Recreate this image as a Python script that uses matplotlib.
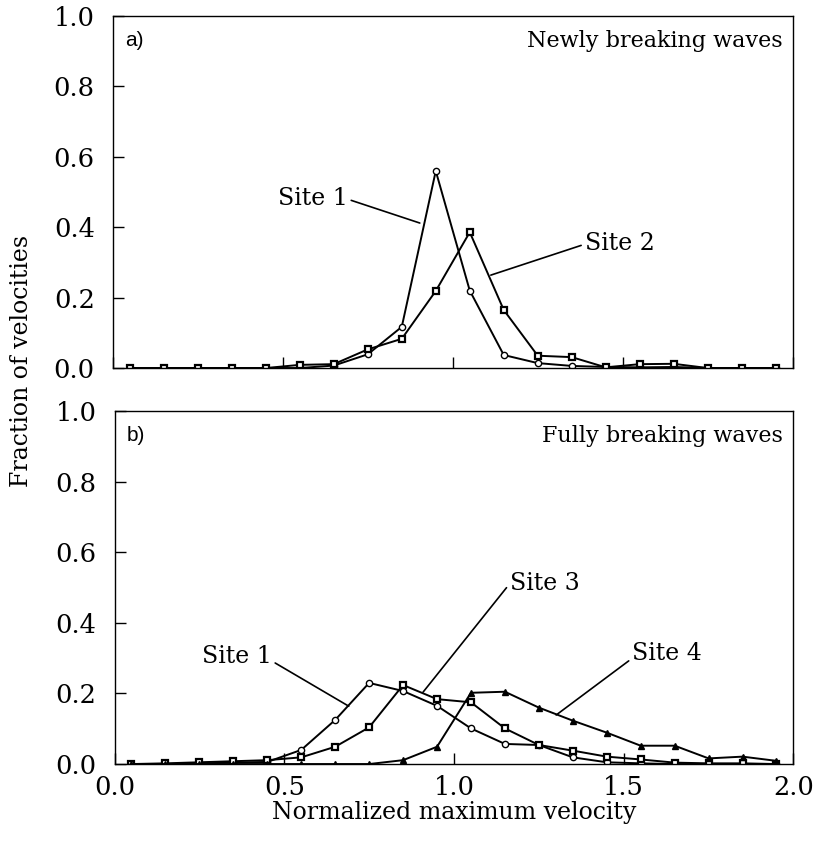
import matplotlib
matplotlib.use("Agg")
import matplotlib.pyplot as plt

plt.rcParams["font.family"] = ["DejaVu Serif"]

# bin centres of normalized maximum velocity
velocity = [0.05, 0.15, 0.25, 0.35, 0.45, 0.55, 0.65, 0.75, 0.85, 0.95,
            1.05, 1.15, 1.25, 1.35, 1.45, 1.55, 1.65, 1.75, 1.85, 1.95]

# a) newly breaking waves
newly_site1 = [0.0, 0.0, 0.0, 0.0, 0.0, 0.0, 0.007, 0.039, 0.117, 0.56,
               0.22, 0.037, 0.014, 0.006, 0.003, 0.002, 0.003, 0.0, 0.0, 0.0]
newly_site2 = [0.0, 0.0, 0.0, 0.0, 0.0, 0.009, 0.011, 0.053, 0.083, 0.219,
               0.386, 0.165, 0.035, 0.031, 0.002, 0.011, 0.012, 0.0, 0.0, 0.0]

# b) fully breaking waves
fully_site1 = [0.0, 0.0, 0.002, 0.004, 0.006, 0.04, 0.125, 0.23, 0.207, 0.165,
               0.101, 0.057, 0.054, 0.019, 0.005, 0.002, 0.0, 0.0, 0.0, 0.0]
fully_site3 = [0.0, 0.002, 0.005, 0.008, 0.011, 0.019, 0.049, 0.104, 0.224, 0.184,
               0.175, 0.101, 0.054, 0.038, 0.021, 0.013, 0.004, 0.002, 0.002, 0.0]
fully_site4 = [0.0, 0.0, 0.0, 0.0, 0.0, 0.0, 0.0, 0.0, 0.011, 0.049,
               0.202, 0.205, 0.16, 0.123, 0.089, 0.052, 0.052, 0.016, 0.021, 0.009]

x_ticks = [0.0, 0.5, 1.0, 1.5, 2.0]
y_ticks = [0.0, 0.2, 0.4, 0.6, 0.8, 1.0]

fig = plt.figure(figsize=(8.18, 8.48), dpi=100)
ax_a = fig.add_axes([0.138, 0.566, 0.831, 0.415])
ax_b = fig.add_axes([0.140, 0.099, 0.830, 0.416])

line_kw = dict(color="black", lw=1.4)
circle_kw = dict(marker="o", ms=4.5, mfc="white", mec="black", mew=1.0)
square_kw = dict(marker="s", ms=5, mfc="white", mec="black", mew=1.6)
tri_kw = dict(marker="^", ms=5, mfc="black", mec="black")

ax_a.plot(velocity, newly_site1, **line_kw, **circle_kw)
ax_a.plot(velocity, newly_site2, **line_kw, **square_kw)

ax_b.plot(velocity, fully_site1, **line_kw, **circle_kw)
ax_b.plot(velocity, fully_site3, **line_kw, **square_kw)
ax_b.plot(velocity, fully_site4, **line_kw, **tri_kw)

for ax in (ax_a, ax_b):
    ax.set_xlim(0, 2)
    ax.set_ylim(0, 1)
    ax.set_yticks(y_ticks)
    ax.set_yticklabels([f"{t:.1f}" for t in y_ticks], fontsize=18.5)
    ax.set_xticks(x_ticks)
    ax.tick_params(direction="in", length=8, width=1.0, top=False, right=False)
    ax.tick_params(axis="y", pad=13)
    for s in ax.spines.values():
        s.set_linewidth(1.0)

ax_a.set_xticklabels([])
ax_b.set_xticklabels([f"{t:.1f}" for t in x_ticks], fontsize=18.5)
ax_b.tick_params(axis="x", pad=8)

panel_font = ["Liberation Sans", "DejaVu Sans"]
ax_a.text(0.018, 0.93, "a)", transform=ax_a.transAxes, fontsize=15,
          family=panel_font, va="center", ha="left")
ax_a.text(0.985, 0.93, "Newly breaking waves", transform=ax_a.transAxes,
          fontsize=16, va="center", ha="right")
ax_b.text(0.018, 0.93, "b)", transform=ax_b.transAxes, fontsize=15,
          family=panel_font, va="center", ha="left")
ax_b.text(0.985, 0.93, "Fully breaking waves", transform=ax_b.transAxes,
          fontsize=16, va="center", ha="right")

leader = dict(arrowstyle="-", color="black", lw=1.2, shrinkA=0, shrinkB=0)

ax_a.annotate("Site 1", xy=(0.903, 0.412), xytext=(0.691, 0.483), fontsize=17,
              ha="right", va="center", arrowprops=dict(leader, relpos=(1.05, 0.4)))
ax_a.annotate("Site 2", xy=(1.112, 0.264), xytext=(1.388, 0.355), fontsize=17,
              ha="left", va="center", arrowprops=dict(leader, relpos=(-0.05, 0.4)))
ax_b.annotate("Site 1", xy=(0.690, 0.164), xytext=(0.463, 0.306), fontsize=17,
              ha="right", va="center", arrowprops=dict(leader, relpos=(1.05, 0.2)))
ax_b.annotate("Site 3", xy=(0.909, 0.204), xytext=(1.165, 0.513), fontsize=17,
              ha="left", va="center", arrowprops=dict(leader, relpos=(-0.05, 0.3)))
ax_b.annotate("Site 4", xy=(1.301, 0.139), xytext=(1.525, 0.312), fontsize=17,
              ha="left", va="center", arrowprops=dict(leader, relpos=(-0.05, 0.2)))

fig.text(0.026, 0.574, "Fraction of velocities", rotation=90, fontsize=17,
         ha="center", va="center")
fig.text(0.555, 0.042, "Normalized maximum velocity", fontsize=17,
         ha="center", va="center")

fig.savefig("out.png", dpi=100, facecolor="white")
